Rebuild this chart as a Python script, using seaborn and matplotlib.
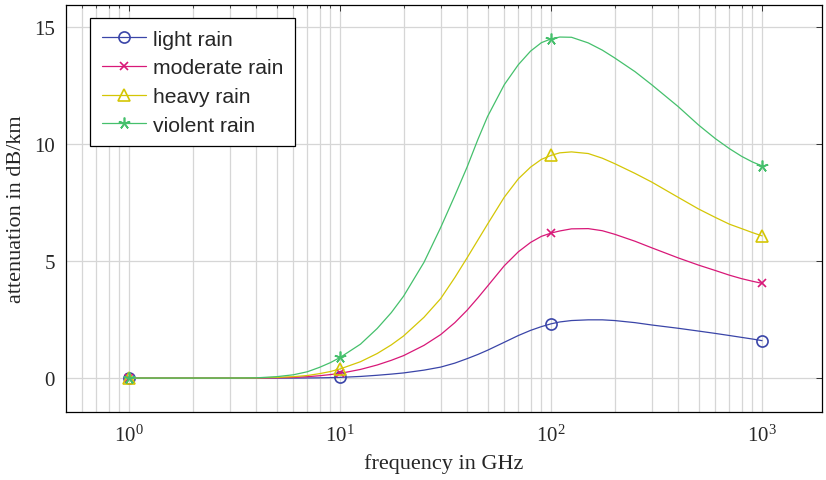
import numpy as np
import pandas as pd
import seaborn as sns
import matplotlib
matplotlib.use("Agg")
import matplotlib.pyplot as plt
from matplotlib.ticker import LogLocator, FixedLocator

# Frequencies (GHz) at which the attenuation curves are given
freq_ghz = [1, 2, 3, 4, 5, 6, 7, 8, 9, 10, 12.5, 15, 17.5, 20, 25, 30, 35, 40,
            45, 50, 60, 70, 80, 90, 100, 110, 125, 150, 175, 200, 250, 300,
            400, 500, 600, 700, 800, 900, 1000]

# Specific attenuation in dB/km for each rain intensity
light_rain = [0, 0, 0, 0, 0, 0, 0.005, 0.01, 0.02, 0.03, 0.07, 0.12, 0.17,
              0.22, 0.34, 0.47, 0.64, 0.83, 1.01, 1.19, 1.53, 1.82, 2.04, 2.20,
              2.32, 2.40, 2.46, 2.49, 2.49, 2.46, 2.37, 2.27, 2.13, 2.01, 1.91,
              1.82, 1.74, 1.67, 1.60]
moderate_rain = [0, 0, 0, 0, 0.01, 0.03, 0.06, 0.10, 0.15, 0.20, 0.37, 0.56,
                 0.76, 0.96, 1.40, 1.86, 2.37, 2.90, 3.43, 3.93, 4.80, 5.40,
                 5.80, 6.06, 6.20, 6.29, 6.38, 6.39, 6.30, 6.15, 5.85, 5.57,
                 5.14, 4.83, 4.60, 4.40, 4.25, 4.14, 4.05]
heavy_rain = [0, 0, 0, 0.01, 0.03, 0.06, 0.11, 0.19, 0.28, 0.39, 0.70, 1.05,
              1.42, 1.80, 2.60, 3.40, 4.30, 5.14, 5.90, 6.58, 7.73, 8.52, 9.02,
              9.35, 9.52, 9.63, 9.67, 9.60, 9.40, 9.17, 8.75, 8.38, 7.73, 7.23,
              6.87, 6.58, 6.39, 6.22, 6.08]
violent_rain = [0, 0, 0, 0.01, 0.06, 0.14, 0.27, 0.46, 0.66, 0.88, 1.45, 2.12,
                2.80, 3.50, 4.95, 6.44, 7.80, 9.02, 10.20, 11.18, 12.54, 13.40,
                13.98, 14.34, 14.50, 14.58, 14.57, 14.33, 14.02, 13.69, 13.10,
                12.54, 11.61, 10.82, 10.24, 9.81, 9.48, 9.24, 9.07]

series_names = ["light rain", "moderate rain", "heavy rain", "violent rain"]
series_values = [light_rain, moderate_rain, heavy_rain, violent_rain]
series_colors = ["#3a45a8", "#d81878", "#d4c605", "#45c06c"]
series_markers = ["o", "x", "^", (5, 2, 0)]
marker_sizes = [8, 6, 8, 8.5]

# Marks are placed at the decade frequencies only
marked_freqs = [1, 10, 100, 1000]
mark_idx = [freq_ghz.index(f) for f in marked_freqs]

df = pd.DataFrame({"freq": freq_ghz})
for name, vals in zip(series_names, series_values):
    df[name] = vals

sns.set_theme(style="white")
plt.rcParams["font.family"] = ["Liberation Serif", "DejaVu Serif"]
plt.rcParams["mathtext.fontset"] = "stix"

fig = plt.figure(figsize=(8.26, 4.81), dpi=100)
ax = fig.add_axes([66 / 826, 1 - 413 / 481, 756 / 826, 407 / 481])

for name, color, mk, ms in zip(series_names, series_colors, series_markers, marker_sizes):
    sns.lineplot(data=df, x="freq", y=name, ax=ax, color=color, lw=0.9,
                 marker=mk, markevery=mark_idx, markersize=ms,
                 markerfacecolor="none", markeredgecolor=color,
                 markeredgewidth=1.2, label=name, zorder=3)

ax.set_xscale("log")
ax.set_xlim(10 ** -0.2986, 10 ** 3.284)
ax.set_ylim(-1.45, 15.95)
ax.yaxis.set_major_locator(FixedLocator([0, 5, 10, 15]))
ax.xaxis.set_major_locator(LogLocator(base=10, numticks=10))
ax.xaxis.set_minor_locator(LogLocator(base=10, subs=np.arange(2, 10), numticks=20))

ax.grid(True, which="both", axis="x", color="#d6d6d6", lw=0.9)
ax.grid(True, which="major", axis="y", color="#d6d6d6", lw=0.9)
ax.set_axisbelow(True)

for sp in ax.spines.values():
    sp.set_color("black")
    sp.set_linewidth(0.9)

ax.tick_params(which="major", direction="in", length=4, width=0.7, color="#333333",
               top=True, right=True, labelsize=15, pad=8)
ax.tick_params(which="minor", direction="in", length=2, width=0.6, color="#333333",
               top=True, right=True)
ax.tick_params(axis="x", which="major", pad=9)

ax.set_xlabel("frequency in GHz", fontsize=16, labelpad=5)
ax.set_ylabel("attenuation in dB/km", fontsize=16, labelpad=6)

leg = ax.legend(loc="upper left", bbox_to_anchor=(24 / 756, 1 - 13 / 407),
                borderaxespad=0, frameon=True, fancybox=False, framealpha=1,
                edgecolor="black", handlelength=2.1, handletextpad=0.35,
                borderpad=0.55, labelspacing=0.46,
                prop={"family": "Liberation Sans", "size": 15.2})
leg.get_frame().set_linewidth(0.9)

fig.savefig("out.png", dpi=100)
